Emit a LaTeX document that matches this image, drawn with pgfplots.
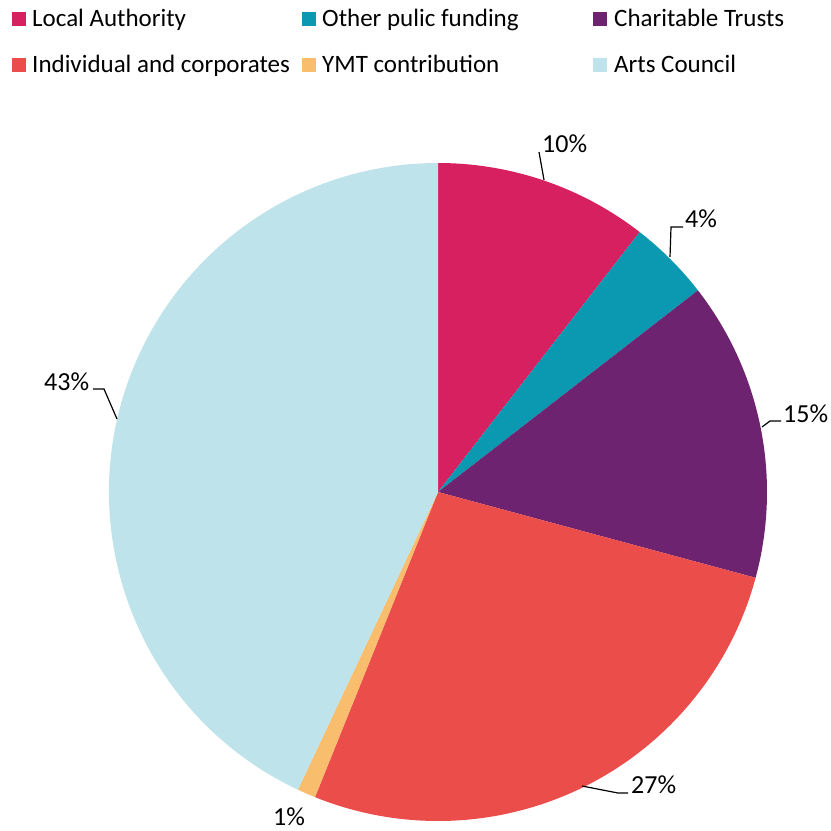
\documentclass[border=0pt]{standalone}
\usepackage{pgfplots}
\pgfplotsset{compat=1.18}
\usepackage{pgfplotstable}
\usepackage{fontspec}
\setmainfont{Carlito}
\definecolor{la}{HTML}{D6205F}
\definecolor{op}{HTML}{0A99B0}
\definecolor{ct}{HTML}{6E2370}
\definecolor{ic}{HTML}{EB4D4B}
\definecolor{ymt}{HTML}{F8BE6E}
\definecolor{ac}{HTML}{BFE3EA}
\pgfplotstableread{
value col
10.5 la
4.0 op
14.7 ct
26.9 ic
0.9 ymt
43.0 ac
}\piedata
\begin{document}
\begin{tikzpicture}
\begin{axis}[
  scale only axis, width=831bp, height=831bp,
  xmin=0, xmax=831, ymin=0, ymax=831, y dir=reverse,
  hide axis, clip=false,
]
\path (axis cs:0,0) rectangle (axis cs:831,831);
\def\angA{90}
\pgfplotsforeachungrouped \i in {0,...,5}{%
  \pgfplotstablegetelem{\i}{value}\of\piedata \let\v=\pgfplotsretval
  \pgfplotstablegetelem{\i}{col}\of\piedata \let\c=\pgfplotsretval
  \pgfmathsetmacro\angB{\angA-3.6*\v}%
  \edef\cmd{\noexpand\fill[\c] (axis cs:438,492) -- ++(\angA:329bp) arc[start angle=\angA, end angle=\angB, radius=329bp] -- cycle;}%
  \cmd
  \global\let\angA=\angB
}
% leader lines
\draw[black, line width=1.2bp] (axis cs:544,180) -- (axis cs:539,152);
\draw[black, line width=1.2bp] (axis cs:670,257) -- (axis cs:671,227) -- (axis cs:683,227);
\draw[black, line width=1.2bp] (axis cs:762,427) -- (axis cs:770,421) -- (axis cs:781,421);
\draw[black, line width=1.2bp] (axis cs:582,786) -- (axis cs:618,793) -- (axis cs:628,793);
\draw[black, line width=1.2bp] (axis cs:117,419) -- (axis cs:104,389) -- (axis cs:93,389);
% labels
\begin{scope}[every node/.style={inner sep=0pt, anchor=base west, font=\fontsize{26bp}{31bp}\selectfont, text=black}]
\node at (axis cs:542,153) {10\%};
\node at (axis cs:685,227) {4\%};
\node at (axis cs:783,422) {15\%};
\node at (axis cs:631,793) {27\%};
\node at (axis cs:273,825) {1\%};
\node at (axis cs:44,390) {43\%};
\end{scope}
% legend
\begin{scope}[every node/.style={inner sep=0pt, anchor=base west, font=\fontsize{25bp}{30bp}\selectfont, text=black}]
\fill[la] (axis cs:12,12) rectangle (axis cs:26,26);
\node at (axis cs:32,27) {Local Authority};
\fill[op] (axis cs:302,12) rectangle (axis cs:316,26);
\node at (axis cs:322,27) {Other pulic funding};
\fill[ct] (axis cs:593,12) rectangle (axis cs:607,26);
\node at (axis cs:614,27) {Charitable Trusts};
\fill[ic] (axis cs:12,58) rectangle (axis cs:26,72);
\node at (axis cs:32,73) {Individual and corporates};
\fill[ymt] (axis cs:302,58) rectangle (axis cs:316,72);
\node at (axis cs:322,73) {YMT contribution};
\fill[ac] (axis cs:593,58) rectangle (axis cs:607,72);
\node at (axis cs:614,73) {Arts Council};
\end{scope}
\end{axis}
\end{tikzpicture}
\end{document}
